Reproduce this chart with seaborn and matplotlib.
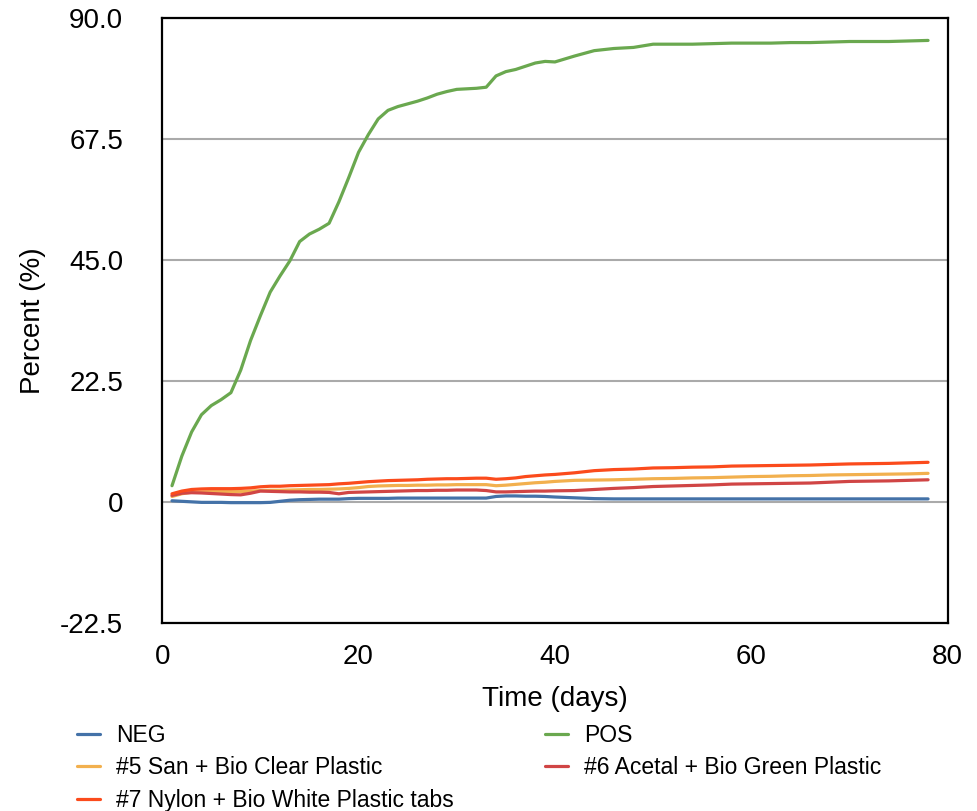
import matplotlib
matplotlib.use("Agg")
import matplotlib.pyplot as plt
import seaborn as sns
import pandas as pd

# giorni di misura
days = list(range(1, 41)) + list(range(42, 79, 2))

neg = [0.2, 0.1, 0.0, -0.1, -0.1, -0.1, -0.15, -0.15, -0.15, -0.15,
       -0.1, 0.1, 0.3, 0.4, 0.45, 0.5, 0.5, 0.5, 0.6, 0.65,
       0.65, 0.65, 0.65, 0.7, 0.7, 0.7, 0.7, 0.7, 0.7, 0.7,
       0.7, 0.7, 0.7, 1.0, 1.1, 1.1, 1.05, 1.05, 1.0, 0.9,
       0.75, 0.6, 0.55, 0.55, 0.55, 0.55, 0.55, 0.55, 0.55, 0.55,
       0.55, 0.55, 0.55, 0.55, 0.55, 0.55, 0.55, 0.55, 0.55]

pos = [3.0, 8.5, 13.0, 16.2, 17.9, 19.0, 20.3, 24.5, 30.0, 34.6,
       39.0, 42.0, 44.8, 48.4, 49.8, 50.7, 51.8, 55.8, 60.3, 65.0,
       68.3, 71.2, 72.8, 73.5, 74.0, 74.5, 75.1, 75.8, 76.3, 76.7,
       76.8, 76.9, 77.1, 79.2, 80.0, 80.4, 81.0, 81.6, 81.9, 81.8,
       82.9, 83.9, 84.3, 84.5, 85.1, 85.1, 85.1, 85.2, 85.3, 85.3,
       85.3, 85.4, 85.4, 85.5, 85.6, 85.6, 85.6, 85.7, 85.8]

san = [1.0, 1.5, 1.8, 1.85, 1.9, 1.9, 1.9, 1.9, 2.0, 2.1,
       2.15, 2.15, 2.2, 2.25, 2.3, 2.3, 2.35, 2.4, 2.5, 2.65,
       2.85, 2.95, 3.0, 3.05, 3.05, 3.1, 3.1, 3.15, 3.15, 3.2,
       3.2, 3.2, 3.2, 3.0, 3.1, 3.25, 3.4, 3.55, 3.65, 3.8,
       4.0, 4.05, 4.1, 4.2, 4.3, 4.35, 4.45, 4.5, 4.6, 4.7,
       4.75, 4.85, 4.9, 5.0, 5.05, 5.1, 5.15, 5.2, 5.3]

acetal = [1.2, 1.6, 1.7, 1.65, 1.55, 1.45, 1.35, 1.3, 1.6, 2.0,
          1.95, 1.9, 1.85, 1.85, 1.8, 1.8, 1.75, 1.5, 1.75, 1.8,
          1.85, 1.9, 1.95, 2.0, 2.05, 2.1, 2.1, 2.15, 2.15, 2.2,
          2.2, 2.2, 2.1, 1.85, 1.85, 1.9, 1.95, 2.0, 2.0, 2.05,
          2.1, 2.3, 2.5, 2.65, 2.85, 2.95, 3.05, 3.15, 3.3, 3.35,
          3.4, 3.45, 3.5, 3.65, 3.8, 3.85, 3.9, 4.0, 4.1]

nylon = [1.5, 2.0, 2.3, 2.4, 2.45, 2.45, 2.45, 2.5, 2.6, 2.8,
         2.9, 2.9, 3.0, 3.05, 3.1, 3.15, 3.2, 3.35, 3.45, 3.6,
         3.75, 3.85, 3.95, 4.0, 4.05, 4.1, 4.2, 4.25, 4.3, 4.3,
         4.35, 4.4, 4.4, 4.2, 4.3, 4.45, 4.7, 4.85, 5.0, 5.1,
         5.4, 5.8, 6.0, 6.1, 6.3, 6.35, 6.45, 6.5, 6.65, 6.7,
         6.75, 6.8, 6.85, 6.95, 7.05, 7.1, 7.15, 7.25, 7.35]

series_names = ["NEG", "POS", "#5 San + Bio Clear Plastic",
                "#6 Acetal + Bio Green Plastic", "#7 Nylon + Bio White Plastic tabs"]
series_values = [neg, pos, san, acetal, nylon]
colori = ["#4472a8", "#6aa84f", "#f2b04e", "#d04545", "#fb4b1c"]

y_ticks = [-22.5, 0, 22.5, 45.0, 67.5, 90.0]
y_tick_labels = ["-22.5", "0", "22.5", "45.0", "67.5", "90.0"]
x_ticks = [0, 20, 40, 60, 80]

rows = []
for name, vals in zip(series_names, series_values):
    for d, v in zip(days, vals):
        rows.append({"day": d, "value": v, "serie": name})
df = pd.DataFrame(rows)

sns.set_style("white")
plt.rcParams['font.family'] = ['Liberation Sans', 'DejaVu Sans']
plt.rcParams['text.color'] = 'black'
plt.rcParams['axes.labelcolor'] = 'black'

fig = plt.figure(figsize=(9.77, 8.11), dpi=100)
ax = fig.add_axes([0.166, 0.232, 0.804, 0.746])

sns.lineplot(data=df, x="day", y="value", hue="serie", hue_order=series_names,
             palette=colori, linewidth=2.3, ax=ax, legend=False)

ax.set_xlim(0, 80)
ax.set_ylim(-22.5, 90)
ax.set_xticks(x_ticks)
ax.set_yticks(y_ticks)
ax.set_yticklabels(y_tick_labels)
ax.tick_params(axis='both', length=0, labelsize=20, colors='black')
ax.tick_params(axis='y', pad=28)
ax.tick_params(axis='x', pad=15)
ax.yaxis.grid(True, color='#aaaaaa', linewidth=1.5)
ax.xaxis.grid(False)
ax.set_axisbelow(True)
for s in ax.spines.values():
    s.set_color('black')
    s.set_linewidth(1.6)
    s.set_visible(True)

ax.set_xlabel("Time (days)", fontsize=20, labelpad=12)
ax.set_ylabel("Percent (%)", fontsize=20, labelpad=10)

# legenda su due colonne, costruita a mano
linee = ax.get_lines()[:len(series_names)]
col1 = [0, 2, 4]
col2 = [1, 3]
stile_leg = dict(loc='upper left', frameon=False, fontsize=16.5, handlelength=1.0,
                 handletextpad=0.7, labelspacing=0.40, borderpad=0, borderaxespad=0)
fig.legend([linee[i] for i in col1], [series_names[i] for i in col1],
           bbox_to_anchor=(0.0788, 0.107), **stile_leg)
fig.legend([linee[i] for i in col2], [series_names[i] for i in col2],
           bbox_to_anchor=(0.5578, 0.107), **stile_leg)

fig.savefig("out.png", dpi=100)
plt.close(fig)
